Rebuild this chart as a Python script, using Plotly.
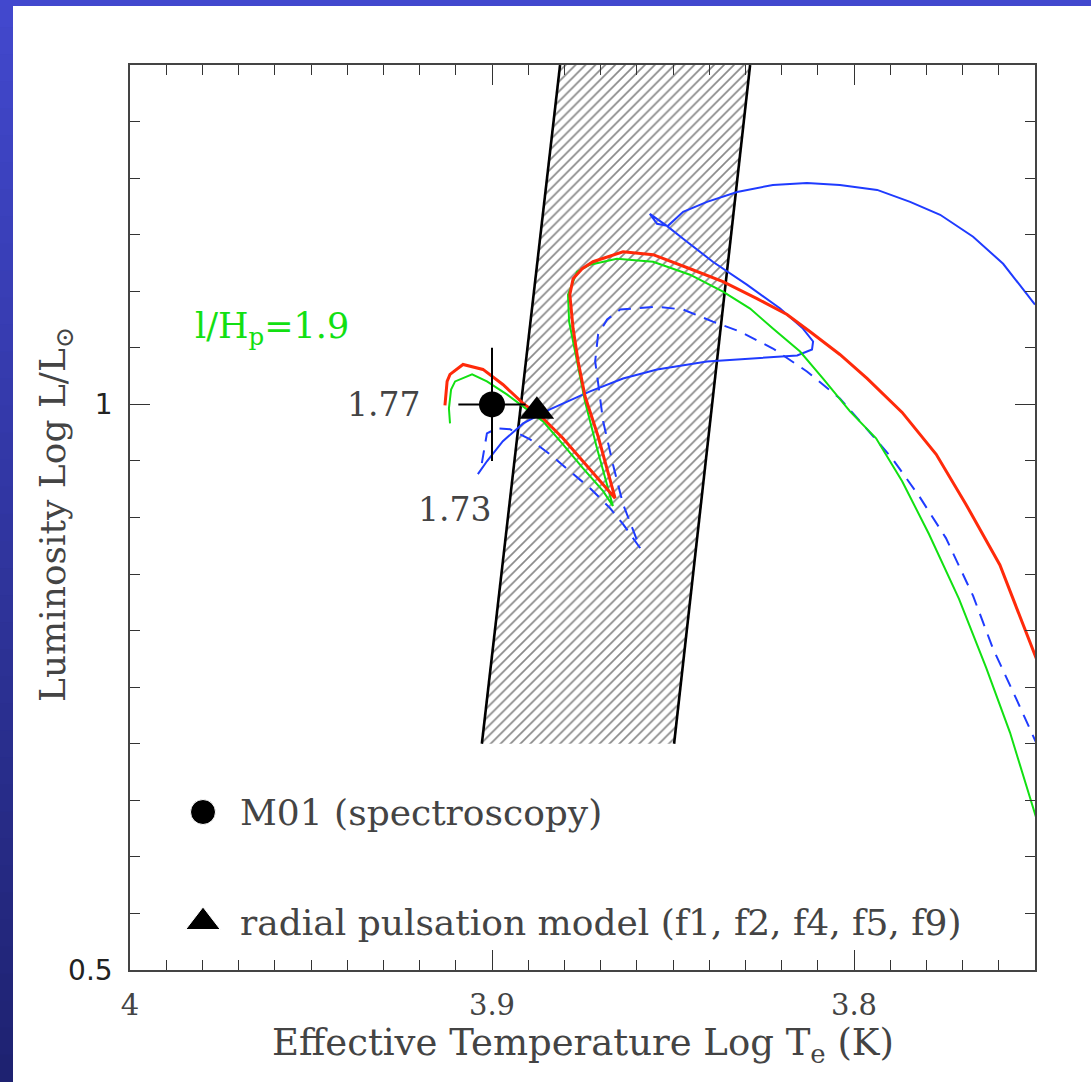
import plotly.graph_objects as go

# ---------------- data (log Te, log L/Lsun) ----------------
red_te = [3.9130, 3.9124, 3.9116, 3.9080, 3.9025, 3.8970, 3.8914, 3.8859, 3.8804, 3.8749,
          3.8693, 3.8660, 3.8707, 3.8743, 3.8762, 3.8776, 3.8785, 3.8776, 3.8751, 3.8721,
          3.8638, 3.8555, 3.8453, 3.8362, 3.8268, 3.8185, 3.8122, 3.8039, 3.7964, 3.7867,
          3.7773, 3.7691, 3.7597, 3.7494]
red_lum = [0.9991, 1.0203, 1.0265, 1.0353, 1.0309, 1.0176, 1.0009, 0.9877, 0.9700, 0.9497,
           0.9295, 0.9171, 0.9718, 1.0071, 1.0379, 1.0670, 1.0970, 1.1111, 1.1199, 1.1261,
           1.1349, 1.1323, 1.1199, 1.1085, 1.0935, 1.0794, 1.0644, 1.0441, 1.0229, 0.9929,
           0.9559, 0.9118, 0.8580, 0.7734]

green_te = [3.9116, 3.9119, 3.9113, 3.9102, 3.9055, 3.9014, 3.8959, 3.8914, 3.8859, 3.8804,
            3.8749, 3.8693, 3.8666, 3.8710, 3.8743, 3.8765, 3.8787, 3.8790, 3.8765, 3.8729,
            3.8655, 3.8555, 3.8453, 3.8362, 3.8287, 3.8224, 3.8149, 3.8086, 3.8011, 3.7939,
            3.7867, 3.7793, 3.7710, 3.7635, 3.7569, 3.7492]
green_lum = [0.9832, 0.9965, 1.0132, 1.0203, 1.0265, 1.0203, 1.0088, 0.9982, 0.9850, 0.9647,
             0.9436, 0.9233, 0.9101, 0.9612, 1.0026, 1.0379, 1.0732, 1.0970, 1.1173, 1.1235,
             1.1287, 1.1261, 1.1146, 1.0996, 1.0847, 1.0670, 1.0467, 1.0229, 0.9938, 0.9700,
             0.9321, 0.8854, 0.8280, 0.7672, 0.7099, 0.6296]

blue_te = [3.9039, 3.9014, 3.8970, 3.8914, 3.8840, 3.8729, 3.8638, 3.8544, 3.8406, 3.8268,
           3.8157, 3.8116, 3.8113, 3.8141, 3.8204, 3.8296, 3.8390, 3.8472, 3.8517, 3.8564,
           3.8544, 3.8514, 3.8472, 3.8406, 3.8323, 3.8224, 3.8130, 3.8039, 3.7936, 3.7845,
           3.7762, 3.7671, 3.7588, 3.7500]
blue_lum = [0.9383, 0.9497, 0.9674, 0.9832, 0.9956, 1.0115, 1.0229, 1.0309, 1.0379, 1.0406,
            1.0432, 1.0485, 1.0556, 1.0670, 1.0847, 1.1058, 1.1261, 1.1464, 1.1578, 1.1684,
            1.1596, 1.1578, 1.1702, 1.1790, 1.1878, 1.1940, 1.1958, 1.1940, 1.1896, 1.1790,
            1.1676, 1.1482, 1.1243, 1.0882]

bluedash_te = [3.9028, 3.9014, 3.8986, 3.8950, 3.8895, 3.8840, 3.8785, 3.8729, 3.8674, 3.8638,
               3.8591, 3.8638, 3.8666, 3.8693, 3.8710, 3.8715, 3.8707, 3.8682, 3.8646, 3.8544,
               3.8472, 3.8390, 3.8315, 3.8224, 3.8130, 3.8039, 3.7978, 3.7895, 3.7820, 3.7746,
               3.7671, 3.7616, 3.7552, 3.7492]
bluedash_lum = [0.9480, 0.9744, 0.9788, 0.9780, 0.9691, 0.9559, 0.9409, 0.9259, 0.9083, 0.8942,
                0.8730, 0.9118, 0.9471, 0.9850, 1.0265, 1.0379, 1.0617, 1.0750, 1.0838, 1.0864,
                1.0838, 1.0732, 1.0644, 1.0494, 1.0291, 1.0053, 0.9832, 0.9524, 0.9189, 0.8818,
                0.8307, 0.7840, 0.7399, 0.6975]

# instability strip edges
strip_lum = [0.70, 1.30]
strip_blue_edge_te = [3.9028, 3.8812]
strip_red_edge_te = [3.8497, 3.8287]

# observed points
m01_te, m01_lum = [3.900], [1.000]
m01_te_err, m01_lum_err = [0.0093], [0.05]
puls_te, puls_lum = [3.8876], [0.994]

# labels
mass_labels = ["1.77", "1.73"]
mass_label_te = [3.9193, 3.8997]
mass_label_lum = [1.000, 0.9074]
legend_labels = ["M01 (spectroscopy)", "radial pulsation model (f1, f2, f4, f5, f9)"]
legend_symbols = ["circle", "triangle-up"]
x_range = [4.0, 3.75]
y_range = [0.5, 1.3]
x_tickvals = [4.0, 3.9, 3.8]
x_ticktext = ["4", "3.9", "3.8"]
y_tickvals = [0.5, 1.0]
y_ticktext = ["0.5", "1"]

TXT = "#444444"
SERIF = "DejaVu Serif"

# plot area geometry (pixels)
W, H, L, T, BOT = 905.0, 905.0, 130.0, 65.0, 970.0
def px2paper_x(px):
    return (px - L) / W
def py2paper_y(py):
    return (BOT - py) / H

fig = go.Figure()

# hatched instability strip
poly_x = strip_blue_edge_te + strip_red_edge_te[::-1]
poly_y = strip_lum + strip_lum[::-1]
fig.add_trace(go.Scatter(
    x=poly_x, y=poly_y, mode="lines", fill="toself", line=dict(width=0),
    fillcolor="rgba(0,0,0,0)",
    fillpattern=dict(shape="/", size=7, solidity=0.24, fgcolor="#111111",
                     bgcolor="rgba(255,255,255,0)", fillmode="overlay"),
    hoverinfo="skip", showlegend=False))
fig.add_trace(go.Scatter(x=strip_blue_edge_te, y=strip_lum, mode="lines",
                         line=dict(color="black", width=2.6), showlegend=False))
fig.add_trace(go.Scatter(x=strip_red_edge_te, y=strip_lum, mode="lines",
                         line=dict(color="black", width=2.6), showlegend=False))

# tracks
fig.add_trace(go.Scatter(x=bluedash_te, y=bluedash_lum, mode="lines",
                         line=dict(color="#1f3bff", width=2, dash="13px,9px"), showlegend=False))
fig.add_trace(go.Scatter(x=blue_te, y=blue_lum, mode="lines",
                         line=dict(color="#1f3bff", width=2), showlegend=False))
fig.add_trace(go.Scatter(x=green_te, y=green_lum, mode="lines",
                         line=dict(color="#12e012", width=2), showlegend=False))
fig.add_trace(go.Scatter(x=red_te, y=red_lum, mode="lines",
                         line=dict(color="#ff2a0a", width=3), showlegend=False))

# observations
fig.add_trace(go.Scatter(
    x=m01_te, y=m01_lum, mode="markers",
    marker=dict(symbol="circle", size=26, color="black"),
    error_x=dict(type="data", array=m01_te_err, color="black", thickness=2, width=0),
    error_y=dict(type="data", array=m01_lum_err, color="black", thickness=2, width=0),
    showlegend=False))
fig.add_trace(go.Scatter(
    x=puls_te, y=puls_lum, mode="markers",
    marker=dict(symbol="triangle-up", size=30, color="black"),
    showlegend=False))

# legend keys (placed in axis space from paper fractions)
key_px_x = 203
key_px_y = [812, 922]
def paper_to_te(fx):
    return x_range[0] + (x_range[1] - x_range[0]) * fx
def paper_to_lum(fy):
    return y_range[0] + (y_range[1] - y_range[0]) * fy
fig.add_trace(go.Scatter(
    x=[paper_to_te(px2paper_x(key_px_x))] * 2,
    y=[paper_to_lum(py2paper_y(p)) for p in key_px_y],
    mode="markers",
    marker=dict(symbol=legend_symbols, size=[25, 30], color="#000000", opacity=1),
    showlegend=False, hoverinfo="skip"))

annotations = []
for lab, tx, ly in zip(mass_labels, mass_label_te, mass_label_lum):
    annotations.append(dict(x=tx, y=ly, xref="x", yref="y", text=lab, showarrow=False,
                            xanchor="right", yanchor="middle",
                            font=dict(family=SERIF, size=33, color=TXT)))
annotations.append(dict(x=px2paper_x(193), y=py2paper_y(328), xref="paper", yref="paper",
                        text="l/H<sub>p</sub>=1.9", showarrow=False, xanchor="left",
                        yanchor="middle", font=dict(family=SERIF, size=35, color="#12e012")))
for lab, p in zip(legend_labels, key_px_y):
    annotations.append(dict(x=px2paper_x(238), y=py2paper_y(p), xref="paper", yref="paper",
                            text=lab, showarrow=False, xanchor="left", yanchor="middle",
                            font=dict(family=SERIF, size=36, color=TXT)))
annotations.append(dict(x=px2paper_x(583), y=py2paper_y(1045), xref="paper", yref="paper",
                        text="Effective Temperature Log T<sub>e</sub> (K)", showarrow=False,
                        xanchor="center", yanchor="middle",
                        font=dict(family=SERIF, size=37, color=TXT)))
annotations.append(dict(x=px2paper_x(55), y=py2paper_y(515), xref="paper", yref="paper",
                        text="Luminosity Log L/L<sub>⊙</sub>", showarrow=False, textangle=-90,
                        xanchor="center", yanchor="middle",
                        font=dict(family=SERIF, size=36, color=TXT)))

# blue frame (gradient on the left edge)
shapes = []
top_c = (66, 72, 206)
bot_c = (30, 34, 112)
N = 40
for i in range(N):
    y0 = 1082 * i / N
    y1 = 1082 * (i + 1) / N + 1
    f = (i + 0.5) / N
    c = tuple(int(round(top_c[k] + (bot_c[k] - top_c[k]) * f)) for k in range(3))
    shapes.append(dict(type="rect", xref="paper", yref="paper", layer="above",
                       x0=px2paper_x(0), x1=px2paper_x(13),
                       y0=py2paper_y(y1), y1=py2paper_y(y0),
                       fillcolor="rgb(%d,%d,%d)" % c, line=dict(width=0)))
shapes.append(dict(type="rect", xref="paper", yref="paper", layer="above",
                   x0=px2paper_x(0), x1=px2paper_x(1091),
                   y0=py2paper_y(6), y1=py2paper_y(0),
                   fillcolor="rgb(66,72,206)", line=dict(width=0)))

axis_common = dict(showgrid=False, zeroline=False, showline=True, linecolor="#444444",
                   linewidth=1.6, mirror="allticks", ticks="inside", ticklen=20,
                   tickwidth=1.4, tickcolor="#333333")

fig.update_layout(
    width=1091, height=1082, autosize=False,
    margin=dict(l=130, r=56, t=65, b=112),
    paper_bgcolor="white", plot_bgcolor="white",
    showlegend=False,
    xaxis=dict(range=x_range, tickvals=x_tickvals, ticktext=x_ticktext,
               tickfont=dict(family=SERIF, size=29, color=TXT), ticklabelstandoff=8,
               minor=dict(dtick=0.01, tick0=3.75, ticks="inside", ticklen=10,
                          tickwidth=1.2, tickcolor="#333333"),
               **axis_common),
    yaxis=dict(range=y_range, tickvals=y_tickvals, ticktext=y_ticktext,
               tickfont=dict(family="DejaVu Sans", size=28, color="#222222"),
               ticklabelstandoff=10,
               minor=dict(dtick=0.05, tick0=0.5, ticks="inside", ticklen=10,
                          tickwidth=1.2, tickcolor="#333333"),
               **axis_common),
    annotations=annotations,
    shapes=shapes,
)

fig.write_html("out.html", config={"displayModeBar": False},
               post_script="document.body.style.margin='0px';document.body.style.overflow='hidden';")
